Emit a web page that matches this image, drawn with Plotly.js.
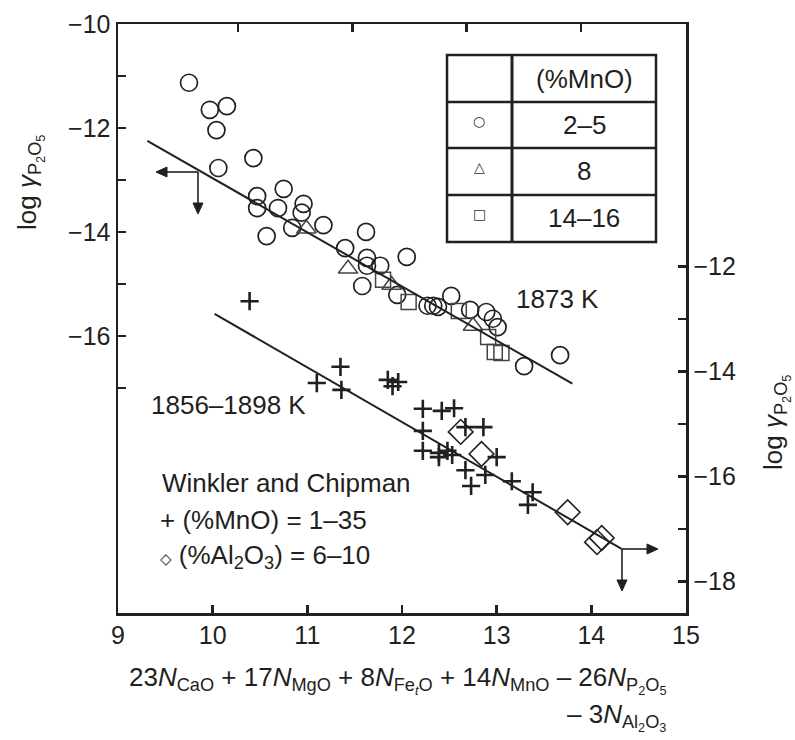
<!DOCTYPE html>
<html>
<head>
<meta charset="utf-8">
<script src="https://cdn.plot.ly/plotly-3.0.1.min.js"></script>
<style>html,body{margin:0;padding:0;background:#fff;}#chart{width:795px;height:740px;}</style>
</head>
<body>
<div id="chart"></div>
<script>
// ---- Data: 1873 K (left axis) ----
const circX = [9.75, 9.97, 10.15, 10.04, 10.06, 10.43, 10.47, 10.47, 10.69, 10.75, 10.96, 10.94, 10.84, 10.57, 11.17, 11.40, 11.62, 11.63, 11.63, 11.77, 12.05, 11.58, 11.95, 12.27, 12.33, 12.38, 12.52, 12.72, 12.89, 12.96, 13.01, 13.29, 13.67];
const circY = [-11.13, -11.65, -11.58, -12.04, -12.77, -12.58, -13.31, -13.54, -13.54, -13.17, -13.46, -13.63, -13.92, -14.08, -13.87, -14.31, -14.00, -14.50, -14.65, -14.65, -14.48, -15.04, -15.21, -15.42, -15.42, -15.44, -15.23, -15.50, -15.54, -15.67, -15.83, -16.58, -16.37];
const triX = [10.99, 11.43, 11.89, 12.75];
const triY = [-13.94, -14.71, -15.02, -15.81];
const sqX = [11.80, 12.07, 12.60, 12.91, 12.98, 13.05];
const sqY = [-14.92, -15.35, -15.52, -16.02, -16.31, -16.33];
const fit1873X = [9.31, 13.80];
const fit1873Y = [-12.25, -16.92];

// ---- Data: Winkler and Chipman, 1856-1898 K (right axis) ----
const plusX = [10.39, 11.10, 11.35, 11.36, 11.85, 11.90, 11.96, 12.22, 12.42, 12.55, 12.22, 12.22, 12.39, 12.48, 12.53, 12.39, 12.67, 12.86, 13.00, 12.67, 12.73, 12.88, 13.16, 13.38, 13.33];
const plusY = [-12.66, -14.22, -13.91, -14.35, -14.16, -14.28, -14.20, -14.71, -14.75, -14.70, -15.13, -15.51, -15.55, -15.51, -15.59, -15.63, -15.06, -15.06, -15.63, -15.88, -16.18, -15.97, -16.09, -16.30, -16.54];
const diaX = [12.62, 12.84, 13.75, 14.11, 14.06];
const diaY = [-15.15, -15.57, -16.68, -17.17, -17.25];
const fitWCX = [10.02, 14.32];
const fitWCY = [-12.90, -17.38];

// ---- Axis ticks ----
const xTicks = [9, 10, 11, 12, 13, 14, 15];
const yLeftTicks = [-10, -12, -14, -16];
const yLeftText = ['−10', '−12', '−14', '−16'];
const yLeftMinor = [-11, -13, -15, -17];
const yRightTicks = [-12, -14, -16, -18];
const yRightText = ['−12', '−14', '−16', '−18'];
const yRightMinor = [-13, -15, -17];
const legendRows = ['2–5', '8', '14–16'];
const legendHeader = '(%MnO)';

// ---- layout geometry helpers (pixels -> paper) ----
const L = 118, R = 686, T = 24, B = 613;
const px = v => (v - L) / (R - L);
const py = v => (B - v) / (B - T);
const ink = '#231f20';
const FONT = 'Liberation Sans, Arial, sans-serif';
const FS = 26;

const traces = [
  {x: circX, y: circY, mode: 'markers', type: 'scatter', xaxis: 'x', yaxis: 'y',
   marker: {symbol: 'circle-open', size: 17, color: ink, line: {width: 1.7, color: ink}}},
  {x: triX, y: triY, mode: 'markers', type: 'scatter', xaxis: 'x', yaxis: 'y',
   marker: {symbol: 'triangle-up-open', size: 17, color: '#444', line: {width: 1.5, color: '#444'}}},
  {x: sqX, y: sqY, mode: 'markers', type: 'scatter', xaxis: 'x', yaxis: 'y',
   marker: {symbol: 'square-open', size: 15, color: '#444', line: {width: 1.5, color: '#444'}}},
  {x: fit1873X, y: fit1873Y, mode: 'lines', type: 'scatter', xaxis: 'x', yaxis: 'y',
   line: {color: ink, width: 2}},
  {x: plusX, y: plusY, mode: 'markers', type: 'scatter', xaxis: 'x', yaxis: 'y2',
   marker: {symbol: 'cross-thin-open', size: 13, color: ink, line: {width: 2.6, color: ink}}},
  {x: diaX, y: diaY, mode: 'markers', type: 'scatter', xaxis: 'x', yaxis: 'y2',
   marker: {symbol: 'diamond-open', size: 19, color: ink, line: {width: 1.6, color: ink}}},
  {x: fitWCX, y: fitWCY, mode: 'lines', type: 'scatter', xaxis: 'x', yaxis: 'y2',
   line: {color: ink, width: 2}},
  {x: [], y: [], mode: 'markers', type: 'scatter', xaxis: 'x2', yaxis: 'y', hoverinfo: 'skip'}
];

const axBase = {showgrid: false, zeroline: false, showline: true, linecolor: ink, linewidth: 2.5,
  ticks: 'inside', ticklen: 8, tickwidth: 2.5, tickcolor: ink,
  tickfont: {family: FONT, size: 25, color: ink}};
const minorBase = {ticks: 'inside', ticklen: 8, tickwidth: 2.5, tickcolor: ink, showgrid: false, tickmode: 'array'};

const shapes = [];
const tbl = {x0: 447, x1: 656, xm: 512, y0: 55, y1: 242, rows: [102, 148, 195]};
shapes.push({type: 'rect', xref: 'paper', yref: 'paper', x0: px(tbl.x0), x1: px(tbl.x1), y0: py(tbl.y1), y1: py(tbl.y0),
  line: {color: ink, width: 2.5}, fillcolor: 'rgba(0,0,0,0)'});
shapes.push({type: 'line', xref: 'paper', yref: 'paper', x0: px(tbl.xm), x1: px(tbl.xm), y0: py(tbl.y1), y1: py(tbl.y0),
  line: {color: ink, width: 3}});
tbl.rows.forEach(r => shapes.push({type: 'line', xref: 'paper', yref: 'paper', x0: px(tbl.x0), x1: px(tbl.x1), y0: py(r), y1: py(r),
  line: {color: ink, width: 2.5}}));

// direction arrows drawn as shapes (pixel geometry)
function arrow(vx, vy, dx, dy, len) {
  const tipX = vx + dx * len, tipY = vy + dy * len;
  const baseX = tipX - dx * 11, baseY = tipY - dy * 11;
  const nx = -dy * 5, ny = dx * 5;
  shapes.push({type: 'line', xref: 'paper', yref: 'paper', x0: px(vx), y0: py(vy), x1: px(baseX), y1: py(baseY),
    line: {color: ink, width: 1.6}});
  shapes.push({type: 'path', xref: 'paper', yref: 'paper',
    path: `M ${px(tipX)} ${py(tipY)} L ${px(baseX + nx)} ${py(baseY + ny)} L ${px(baseX - nx)} ${py(baseY - ny)} Z`,
    fillcolor: ink, line: {color: ink, width: 1}});
}
arrow(198, 172, -1, 0, 42);
arrow(198, 172, 0, 1, 42);
arrow(622, 549, 1, 0, 36);
arrow(622, 549, 0, 1, 42);

const ann = [];
const txt = (text, xp, yp, size, xanchor, extra) => Object.assign({text: text, xref: 'paper', yref: 'paper', x: px(xp), y: py(yp),
  showarrow: false, xanchor: xanchor || 'center', yanchor: 'middle', font: {family: FONT, size: size, color: ink}}, extra || {});

ann.push(txt(legendHeader, 584, 79, FS));
const rowY = [125, 171, 218];
legendRows.forEach((t, i) => ann.push(txt(t, 584, rowY[i], FS)));
const legSym = ['○', '△', '□'];
legSym.forEach((s, i) => ann.push(txt(s, 479, rowY[i] - 4, 14, 'center', {font: {family: 'DejaVu Sans', size: 14, color: '#333'}})));

ann.push(txt('1873 K', 557, 299, FS));
ann.push(txt('1856–1898 K', 228, 405, FS));
ann.push(txt('Winkler and Chipman', 160, 483, FS, 'left'));
ann.push(txt('+ (%MnO) = 1–35', 158, 520, FS, 'left'));
ann.push(txt('<span style="font-family:DejaVu Sans;font-size:15px">◇</span> (%Al<sub>2</sub>O<sub>3</sub>) = 6–10', 158, 556, FS, 'left'));

// axis titles
ann.push(txt('log <i>γ</i><sub>P<sub>2</sub>O<sub>5</sub></sub>', 30, 183, 26, 'center', {textangle: -90}));
ann.push(txt('log <i>γ</i><sub>P<sub>2</sub>O<sub>5</sub></sub>', 776, 423, 26, 'center', {textangle: -90}));
ann.push(txt('23<i>N</i><sub>CaO</sub> + 17<i>N</i><sub>MgO</sub> + 8<i>N</i><sub>Fe<sub><i>t</i></sub>O</sub> + 14<i>N</i><sub>MnO</sub> – 26<i>N</i><sub>P<sub>2</sub>O<sub>5</sub></sub>', 398, 680, 26));
ann.push(txt('– 3<i>N</i><sub>Al<sub>2</sub>O<sub>3</sub></sub>', 668, 717, 26, 'right'));

const layout = {
  width: 795, height: 740,
  margin: {l: L, r: 795 - R, t: T, b: 740 - B, pad: 0},
  paper_bgcolor: '#fff', plot_bgcolor: '#fff',
  showlegend: false,
  font: {family: FONT, color: ink},
  xaxis: Object.assign({}, axBase, {range: [9, 15], tickmode: 'array', tickvals: xTicks, ticktext: xTicks.map(String), side: 'bottom', anchor: 'y', ticklabelstandoff: -2}),
  xaxis2: Object.assign({}, axBase, {range: [-0.05, 4.92], tickmode: 'array', tickvals: [1, 2, 3, 4], showticklabels: false, overlaying: 'x', side: 'top', anchor: 'y'}),
  yaxis: Object.assign({}, axBase, {range: [-21.33, -10], tickmode: 'array', tickvals: yLeftTicks, ticktext: yLeftText, side: 'left', anchor: 'x',
    minor: Object.assign({}, minorBase, {tickvals: yLeftMinor})}),
  yaxis2: Object.assign({}, axBase, {range: [-18.60, -7.38], tickmode: 'array', tickvals: yRightTicks, ticktext: yRightText, side: 'right', overlaying: 'y', anchor: 'x',
    minor: Object.assign({}, minorBase, {tickvals: yRightMinor})}),
  shapes: shapes,
  annotations: ann
};

Plotly.newPlot('chart', traces, layout, {staticPlot: true, displayModeBar: false});
</script>
</body>
</html>
